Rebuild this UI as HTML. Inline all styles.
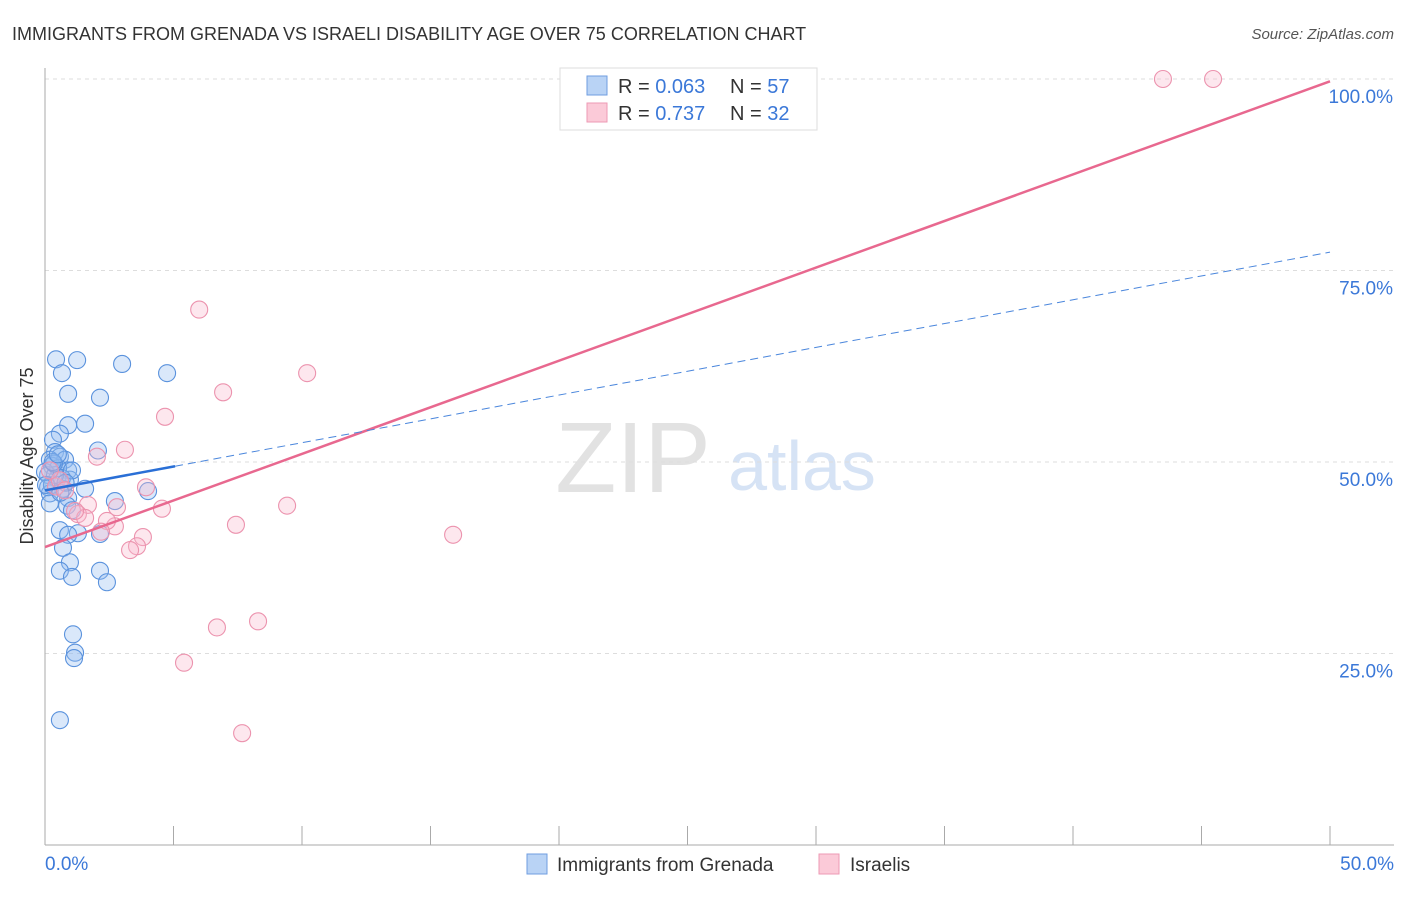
<!DOCTYPE html>
<html><head><meta charset="utf-8"><style>
body{margin:0;background:#fff;font-family:"Liberation Sans",sans-serif;}
svg text{font-family:"Liberation Sans",sans-serif;}
</style></head><body>
<svg width="1406" height="892" id="c">
<text x="12" y="40" font-size="18" fill="#333">IMMIGRANTS FROM GRENADA VS ISRAELI DISABILITY AGE OVER 75 CORRELATION CHART</text>
<text x="1394" y="39" font-size="15" fill="#555" font-style="italic" text-anchor="end">Source: ZipAtlas.com</text>
<text x="633" y="492" font-size="100" fill="#e2e2e2" font-family="Liberation Serif" text-anchor="middle">ZIP</text>
<text x="802" y="490" font-size="70" fill="#d6e3f5" text-anchor="middle">atlas</text>
<g id="grid"></g>
<line x1="45" y1="68" x2="45" y2="845" stroke="#aaa"/>
<line x1="45" y1="845" x2="1394" y2="845" stroke="#aaa"/>
<g id="xticks"></g>
<text x="33" y="456" font-size="18" fill="#333" text-anchor="middle" transform="rotate(-90 33 456)">Disability Age Over 75</text>
<text x="45" y="870" font-size="19" fill="#3b78d8">0.0%</text>
<text x="1394" y="870" font-size="19" fill="#3b78d8" text-anchor="end">50.0%</text>
<g id="pts"></g>
<g id="lines"></g>
<g>
<rect x="560" y="68" width="257" height="62" fill="#fff" stroke="#ddd"/>
<rect x="587" y="76" width="20" height="19" fill="#b9d3f5" stroke="#6f9ee0"/>
<rect x="587" y="103" width="20" height="19" fill="#fbcad8" stroke="#ee9ab4"/>
<text x="618" y="93" font-size="20" fill="#333">R = <tspan fill="#3b78d8">0.063</tspan><tspan x="730">N = </tspan><tspan fill="#3b78d8">57</tspan></text>
<text x="618" y="120" font-size="20" fill="#333">R = <tspan fill="#3b78d8"> 0.737</tspan><tspan x="730">N = </tspan><tspan fill="#3b78d8">32</tspan></text>
</g>
<g>
<rect x="527" y="854" width="20" height="20" fill="#b9d3f5" stroke="#6f9ee0"/>
<text x="557" y="871" font-size="19" fill="#333">Immigrants from Grenada</text>
<rect x="819" y="854" width="20" height="20" fill="#fbcad8" stroke="#ee9ab4"/>
<text x="850" y="871" font-size="19" fill="#333">Israelis</text>
</g>
</svg>
<script>
const yTicks=[25,50,75,100];
const yTickLabels=["25.0%","50.0%","75.0%","100.0%"];
const blueX=[0.43,1.25,0.66,3.0,4.75,0.9,2.14,0.9,1.56,0.58,0.31,2.06,0.39,0.58,0.19,0.78,0.27,0.9,0.12,0.47,0.97,0.12,0.7,1.56,4.01,0.19,0.9,2.72,0.86,1.05,1.28,2.14,0.58,0.9,0.7,0.97,0.58,2.14,1.05,2.41,1.09,1.17,1.13,0.58,0.51,0.66,0.27,0.39,0.0,0.04,1.05,0.19,0.35,0.8,0.6,0.3,0.5];
const blueY=[63.4,63.3,61.6,62.8,61.6,58.9,58.4,54.8,55.0,53.7,52.9,51.5,51.3,50.7,50.3,50.3,49.5,48.9,48.3,47.8,47.7,46.7,46.5,46.5,46.2,45.9,45.3,44.9,44.3,43.7,40.7,40.6,41.1,40.5,38.8,36.9,35.8,35.8,35.0,34.3,27.5,25.1,24.4,16.3,49.2,47.9,47.0,48.3,48.7,47.0,48.9,44.6,49.8,47.3,46.0,50.0,51.0];
const pinkX=[43.5,45.45,6.0,10.2,6.93,4.67,3.11,2.02,3.93,0.43,1.67,4.55,9.42,1.28,1.56,2.72,2.41,7.43,2.18,3.81,15.88,3.58,3.31,2.8,6.69,8.29,5.41,7.67,0.58,0.19,1.17,0.78];
const pinkY=[100,100,69.9,61.6,59.1,55.9,51.6,50.7,46.7,46.8,44.4,43.9,44.3,43.2,42.7,41.6,42.3,41.8,40.9,40.2,40.5,39.0,38.5,44.1,28.4,29.2,23.8,14.6,47.6,48.9,43.6,46.3];
const blueLine=[46.3,77.4], blueSolidEnd=5.06;
const pinkLine=[38.9,99.7];
const NS="http://www.w3.org/2000/svg";
const X=v=>45+v*25.7, Y=v=>845-v*7.66;
function mk(t,a,p){const e=document.createElementNS(NS,t);for(const k in a)e.setAttribute(k,a[k]);document.getElementById(p).appendChild(e);return e;}
yTicks.forEach((t,i)=>{
 const l=mk('line',{x1:45,x2:1394,y1:Y(t),y2:Y(t),stroke:'#ddd','stroke-dasharray':'4,4'},'grid');
 
 
 const tx=mk('text',{x:1393,y:Y(t)+24,'font-size':19,fill:'#3b78d8','text-anchor':'end'},'grid');
 tx.textContent=yTickLabels[i];
 
 
});
for(let i=0;i<=10;i++){const v=i*5;
 const l=mk('line',{x1:X(v),x2:X(v),y1:826,y2:845,stroke:'#aaa'},'xticks');
 
 
}
blueX.forEach((x,i)=>{
 const c=mk('circle',{cx:X(x),cy:Y(blueY[i]),r:8.5,fill:'rgba(150,190,240,0.35)',stroke:'#5a92dd','stroke-width':1.1},'pts');
 
 
});
pinkX.forEach((x,i)=>{
 const c=mk('circle',{cx:X(x),cy:Y(pinkY[i]),r:8.5,fill:'rgba(248,185,205,0.35)',stroke:'#ec93ae','stroke-width':1.1},'pts');
 
 
});
const by=x=>blueLine[0]+(blueLine[1]-blueLine[0])*x/50;
let l1=mk('line',{x1:X(0),y1:Y(pinkLine[0]),x2:X(50),y2:Y(pinkLine[1]),stroke:'#e8688f','stroke-width':2.5},'lines');


let l2=mk('line',{x1:X(0),y1:Y(by(0)),x2:X(blueSolidEnd),y2:Y(by(blueSolidEnd)),stroke:'#2a6fd6','stroke-width':2.5},'lines');


let l3=mk('line',{x1:X(blueSolidEnd),y1:Y(by(blueSolidEnd)),x2:X(50),y2:Y(by(50)),stroke:'#4a86dc','stroke-width':1,'stroke-dasharray':'8,5'},'lines');


</script>
</body></html>
